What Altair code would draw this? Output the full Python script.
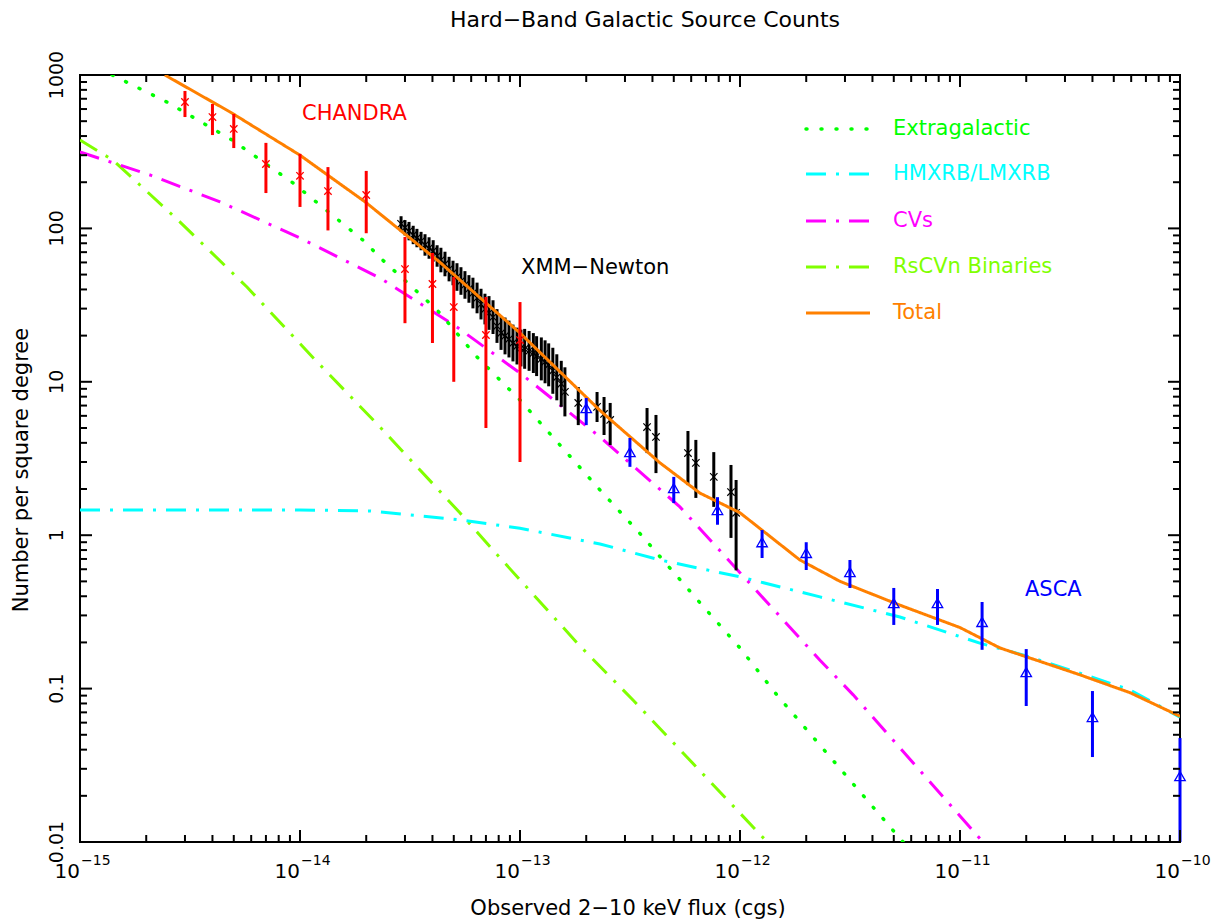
import altair as alt
import pandas as pd

TITLE = "Hard\u2212Band Galactic Source Counts"
X_TITLE = "Observed 2\u221210 keV flux (cgs)"
Y_TITLE = "Number per square degree"

# ---------------- model curves ----------------
extra_x = [1.40e-15, 2.48e-15, 4.91e-15, 9.29e-15, 1.93e-14, 2.38e-14, 4.2e-14, 6.38e-14,
           1e-13, 1.52e-13, 2.31e-13, 3.5e-13, 6.6e-13, 1e-12, 1.47e-12, 5.51e-12]
extra_y = [1000, 667, 377, 198, 84, 62, 29.4, 14.5, 7.6, 3.87, 1.97, 1.03, 0.361, 0.184, 0.091, 0.01]

hmxb_x = [1e-15, 1e-14, 2.08e-14, 5.33e-14, 1e-13, 2.31e-13, 4.33e-13, 1e-12, 2.31e-12,
          5.33e-12, 1.23e-11, 1.93e-11, 3.51e-11, 5.93e-11, 1e-10]
hmxb_y = [1.46, 1.46, 1.44, 1.26, 1.11, 0.877, 0.689, 0.535, 0.396, 0.293, 0.198, 0.166,
          0.126, 0.098, 0.065]

cv_x = [1e-15, 2.08e-15, 4.33e-15, 1e-14, 2.31e-14, 5.18e-14, 1e-13, 2.31e-13, 5.33e-13,
        1e-12, 2.31e-12, 3.27e-12, 1.27e-11]
cv_y = [315, 223, 149, 86.6, 47.5, 22.7, 11.4, 4.37, 1.53, 0.57, 0.153, 0.091, 0.01]

rs_x = [1e-15, 1.41e-15, 2.85e-15, 5.74e-15, 1.15e-14, 2.31e-14, 5.33e-14, 7.31e-14,
        1.87e-13, 3.27e-13, 1.33e-12]
rs_y = [377, 279, 110, 41.5, 14.3, 5.07, 1.40, 0.84, 0.19, 0.084, 0.01]

tot_x = [2.43e-15, 4.81e-15, 1e-14, 2.0e-14, 4.33e-14, 1e-13, 2.31e-13, 4.33e-13, 6.58e-13,
         1e-12, 1.87e-12, 2.85e-12, 5.33e-12, 1e-11, 1.52e-11, 3.51e-11, 5.93e-11, 1e-10]
tot_y = [1000, 574, 300, 147, 60, 20.8, 6.5, 2.96, 1.88, 1.4, 0.69, 0.50, 0.35, 0.25, 0.184,
         0.123, 0.094, 0.066]

# ---------------- data points ----------------
chandra_x = [3.0e-15, 4.0e-15, 5.0e-15, 7.0e-15, 1.0e-14, 1.34e-14, 2.0e-14, 3.0e-14, 4.0e-14,
             5.0e-14, 7.0e-14, 1.0e-13]
chandra_y = [667, 532, 445, 263, 220, 175, 165, 54.3, 43.4, 30.7, 20.2, 18.7]
chandra_lo = [532, 406, 334, 170, 138, 97, 93, 24.1, 17.9, 10.0, 5.0, 3.0]
chandra_hi = [787, 647, 557, 361, 306, 251, 237, 87.9, 69.2, 48.2, 35.7, 33.1]

xmm_dense_x = [2.88e-14, 3.00e-14, 3.13e-14, 3.27e-14, 3.40e-14, 3.55e-14, 3.70e-14, 3.86e-14,
               4.03e-14, 4.20e-14, 4.37e-14, 4.56e-14, 4.76e-14, 4.96e-14, 5.17e-14, 5.39e-14,
               5.62e-14, 5.86e-14, 6.11e-14, 6.38e-14, 6.65e-14, 6.93e-14, 7.23e-14, 7.54e-14,
               7.86e-14, 8.20e-14, 8.55e-14, 8.91e-14, 9.29e-14, 9.69e-14, 1.01e-13, 1.05e-13,
               1.10e-13, 1.15e-13, 1.19e-13, 1.25e-13, 1.30e-13, 1.35e-13, 1.41e-13, 1.47e-13,
               1.54e-13, 1.60e-13]
xmm_dense_y = [107, 101, 96, 90.6, 86.5, 82.7, 78, 74.5, 71.3, 66.1, 62.2, 58.6, 54.3, 51.2,
               48.2, 45.4, 42.8, 40.3, 37.9, 35.2, 32.1, 29.8, 28.1, 26.4, 23.1, 20.8, 19.9,
               19.0, 17.9, 17.1, 16.6, 16.4, 15.9, 15.4, 14.7, 14.1, 13.5, 12.9, 11.8, 10.7,
               9.7, 8.6]
# half length of each error bar, in decades
xmm_dense_err = [0.05, 0.05, 0.06, 0.06, 0.06, 0.06, 0.07, 0.07, 0.07, 0.07, 0.08, 0.08,
                 0.08, 0.08, 0.09, 0.09, 0.09, 0.09, 0.10, 0.10, 0.10, 0.10, 0.11, 0.11,
                 0.11, 0.11, 0.12, 0.12, 0.12, 0.12, 0.12, 0.13, 0.13, 0.13, 0.13, 0.14,
                 0.14, 0.14, 0.15, 0.15, 0.15, 0.16]

xmm_x = [1.84e-13, 2.24e-13, 2.41e-13, 2.57e-13, 3.78e-13, 4.15e-13, 5.8e-13, 6.3e-13,
         7.6e-13, 9.1e-13, 9.6e-13]
xmm_y = [7.28, 6.86, 6.17, 5.64, 5.07, 4.37, 3.43, 2.96, 2.4, 1.91, 1.4]
xmm_lo = [5.22, 5.47, 4.5, 3.87, 3.43, 2.54, 2.12, 1.75, 1.53, 0.96, 0.59]
xmm_hi = [9.25, 8.58, 7.96, 7.28, 6.75, 6.08, 4.78, 4.18, 3.48, 2.87, 2.29]

asca_x = [2.0e-13, 3.16e-13, 5.0e-13, 7.9e-13, 1.26e-12, 2.0e-12, 3.16e-12, 5.0e-12, 7.9e-12,
          1.26e-11, 2.0e-11, 4.0e-11, 1.0e-10]
asca_y = [6.74, 3.48, 2.03, 1.46, 0.90, 0.766, 0.575, 0.361, 0.361, 0.272, 0.128, 0.0653, 0.0269]
asca_lo = [5.22, 2.79, 1.62, 1.17, 0.71, 0.593, 0.453, 0.26, 0.26, 0.179, 0.077, 0.0358, 0.01]
asca_hi = [7.84, 4.30, 2.40, 1.77, 1.08, 0.90, 0.689, 0.453, 0.446, 0.367, 0.181, 0.0964, 0.0476]

# ---------------- axes ----------------
x_decades = [1e-15, 1e-14, 1e-13, 1e-12, 1e-11, 1e-10]
x_exponents = ["\u221215", "\u221214", "\u221213", "\u221212", "\u221211", "\u221210"]
y_decades = [0.01, 0.1, 1, 10, 100, 1000]
y_labels = ["0.01", "0.1", "1", "10", "100", "1000"]
minor_mult = [2, 3, 4, 5, 6, 7, 8, 9]

legend_names = ["Extragalactic", "HMXRB/LMXRB", "CVs", "RsCVn Binaries", "Total"]

GREEN, CYAN, MAGENTA, LIME, ORANGE = "#00ff00", "#00ffff", "#ff00ff", "#80ff00", "#ff8000"
RED, BLUE, BLACK = "#ff0000", "#0000ff", "#000000"
FONT = "DejaVu Sans"
W, H = 1100, 767
DOT = [1, 14]
DASHDOT = [20, 10, 3, 10]
XSHAPE = "M-1,-1L1,1M-1,1L1,-1"

xs = alt.Scale(type="log", domain=[1e-15, 1e-10], nice=False)
ys = alt.Scale(type="log", domain=[0.01, 1000], nice=False)


def X(f="x"):
    return alt.X(f"{f}:Q", scale=xs, axis=None)


def Y(f="y"):
    return alt.Y(f"{f}:Q", scale=ys, axis=None)


one = pd.DataFrame({"k": [0]})
layers = []


def curve(xv, yv, color, dash, cap="butt", width=3):
    df = pd.DataFrame({"x": xv, "y": yv})
    return alt.Chart(df).mark_line(color=color, strokeDash=dash, strokeCap=cap,
                                   strokeWidth=width, clip=True).encode(x=X(), y=Y())


layers.append(curve(rs_x, rs_y, LIME, DASHDOT))
layers.append(curve(hmxb_x, hmxb_y, CYAN, DASHDOT))
layers.append(curve(cv_x, cv_y, MAGENTA, DASHDOT))
layers.append(curve(extra_x, extra_y, GREEN, DOT, cap="round", width=3.5))

# XMM-Newton
dense = pd.DataFrame({"x": xmm_dense_x, "y": xmm_dense_y, "e": xmm_dense_err})
dense["lo"] = dense["y"] / 10 ** dense["e"]
dense["hi"] = dense["y"] * 10 ** dense["e"]
sparse = pd.DataFrame({"x": xmm_x, "y": xmm_y, "lo": xmm_lo, "hi": xmm_hi})
xmm = pd.concat([dense[["x", "y", "lo", "hi"]], sparse], ignore_index=True)
layers.append(alt.Chart(xmm).mark_rule(color=BLACK, strokeWidth=3).encode(
    x=X(), y=Y("lo"), y2=alt.Y2("hi:Q")))
layers.append(alt.Chart(xmm).mark_point(shape=XSHAPE, filled=False, color=BLACK,
                                        size=55, strokeWidth=1.2, opacity=1).encode(x=X(), y=Y()))

# total
layers.append(curve(tot_x, tot_y, ORANGE, [1, 0]))

# CHANDRA
ch = pd.DataFrame({"x": chandra_x, "y": chandra_y, "lo": chandra_lo, "hi": chandra_hi})
layers.append(alt.Chart(ch).mark_rule(color=RED, strokeWidth=3).encode(
    x=X(), y=Y("lo"), y2=alt.Y2("hi:Q")))
layers.append(alt.Chart(ch).mark_point(shape=XSHAPE, filled=False, color=RED,
                                       size=55, strokeWidth=1.3, opacity=1).encode(x=X(), y=Y()))

# ASCA
asc = pd.DataFrame({"x": asca_x, "y": asca_y, "lo": asca_lo, "hi": asca_hi})
layers.append(alt.Chart(asc).mark_rule(color=BLUE, strokeWidth=3).encode(
    x=X(), y=Y("lo"), y2=alt.Y2("hi:Q")))
layers.append(alt.Chart(asc).mark_point(shape="triangle-up", filled=False, color=BLUE,
                                        size=110, strokeWidth=1.3, opacity=1).encode(x=X(), y=Y()))

# ---------------- ticks (inward) ----------------
x_minor = [d * m for d in x_decades[:-1] for m in minor_mult]
y_minor = [d * m for d in y_decades[:-1] for m in minor_mult]
MAJ, MIN = 12, 7
for vals, ln in ((x_decades, MAJ), (x_minor, MIN)):
    df = pd.DataFrame({"v": vals})
    layers.append(alt.Chart(df).mark_rule(color=BLACK, strokeWidth=2).encode(
        x=X("v"), y=alt.value(H), y2=alt.value(H - ln)))
    layers.append(alt.Chart(df).mark_rule(color=BLACK, strokeWidth=2).encode(
        x=X("v"), y=alt.value(0), y2=alt.value(ln)))
for vals, ln in ((y_decades, MAJ), (y_minor, MIN)):
    df = pd.DataFrame({"v": vals})
    layers.append(alt.Chart(df).mark_rule(color=BLACK, strokeWidth=2).encode(
        y=Y("v"), x=alt.value(0), x2=alt.value(ln)))
    layers.append(alt.Chart(df).mark_rule(color=BLACK, strokeWidth=2).encode(
        y=Y("v"), x=alt.value(W), x2=alt.value(W - ln)))

# tick labels
xl = pd.DataFrame({"v": x_decades, "e": x_exponents})
layers.append(alt.Chart(xl).mark_text(font=FONT, fontSize=20, align="right", dx=0,
                                      baseline="alphabetic", color=BLACK).encode(
    x=X("v"), y=alt.value(H + 36), text=alt.value("10")))
layers.append(alt.Chart(xl).mark_text(font=FONT, fontSize=14, align="left", dx=1,
                                      baseline="alphabetic", color=BLACK).encode(
    x=X("v"), y=alt.value(H + 23), text="e:N"))
yl = pd.DataFrame({"v": y_decades, "t": y_labels})
layers.append(alt.Chart(yl).mark_text(font=FONT, fontSize=19, angle=270, align="center",
                                      baseline="alphabetic", color=BLACK).encode(
    y=Y("v"), x=alt.value(-17), text="t:N"))

# titles


def label(txt, x, y, color=BLACK, size=21, align="left", baseline="middle", angle=0):
    return alt.Chart(one).mark_text(font=FONT, fontSize=size, align=align, baseline=baseline,
                                    color=color, angle=angle).encode(
        x=alt.value(x), y=alt.value(y), text=alt.value(txt))


layers.append(label(TITLE, 565, -48, size=22, align="center", baseline="alphabetic"))
layers.append(label(X_TITLE, 548, 840, size=21, align="center", baseline="alphabetic"))
layers.append(label(Y_TITLE, -52, 395, size=21, align="center", baseline="alphabetic", angle=270))
layers.append(label("CHANDRA", 222, 39, color=RED))
layers.append(label("XMM\u2212Newton", 441, 193))
layers.append(label("ASCA", 945, 515, color=BLUE))

# legend
legend_style = [(GREEN, DOT, "round", 3.5), (CYAN, DASHDOT, "butt", 3),
                (MAGENTA, DASHDOT, "butt", 3), (LIME, DASHDOT, "butt", 3),
                (ORANGE, [1, 0], "butt", 3)]
legend_y = [54, 99, 146, 192, 238]
for name, (col, dash, cap, wdt), ly in zip(legend_names, legend_style, legend_y):
    layers.append(alt.Chart(one).mark_rule(color=col, strokeDash=dash, strokeCap=cap,
                                           strokeWidth=wdt).encode(
        x=alt.value(726), x2=alt.value(790), y=alt.value(ly)))
    layers.append(label(name, 813, ly, color=col))

chart = alt.layer(*layers).properties(
    width=W, height=H,
    autosize=alt.AutoSizeParams(type="none"),
    padding={"left": 72, "top": 67, "right": 33, "bottom": 79},
    background="white",
).configure_view(stroke=BLACK, strokeWidth=2)

chart.save("out.html", embed_options={"renderer": "svg", "actions": False})
